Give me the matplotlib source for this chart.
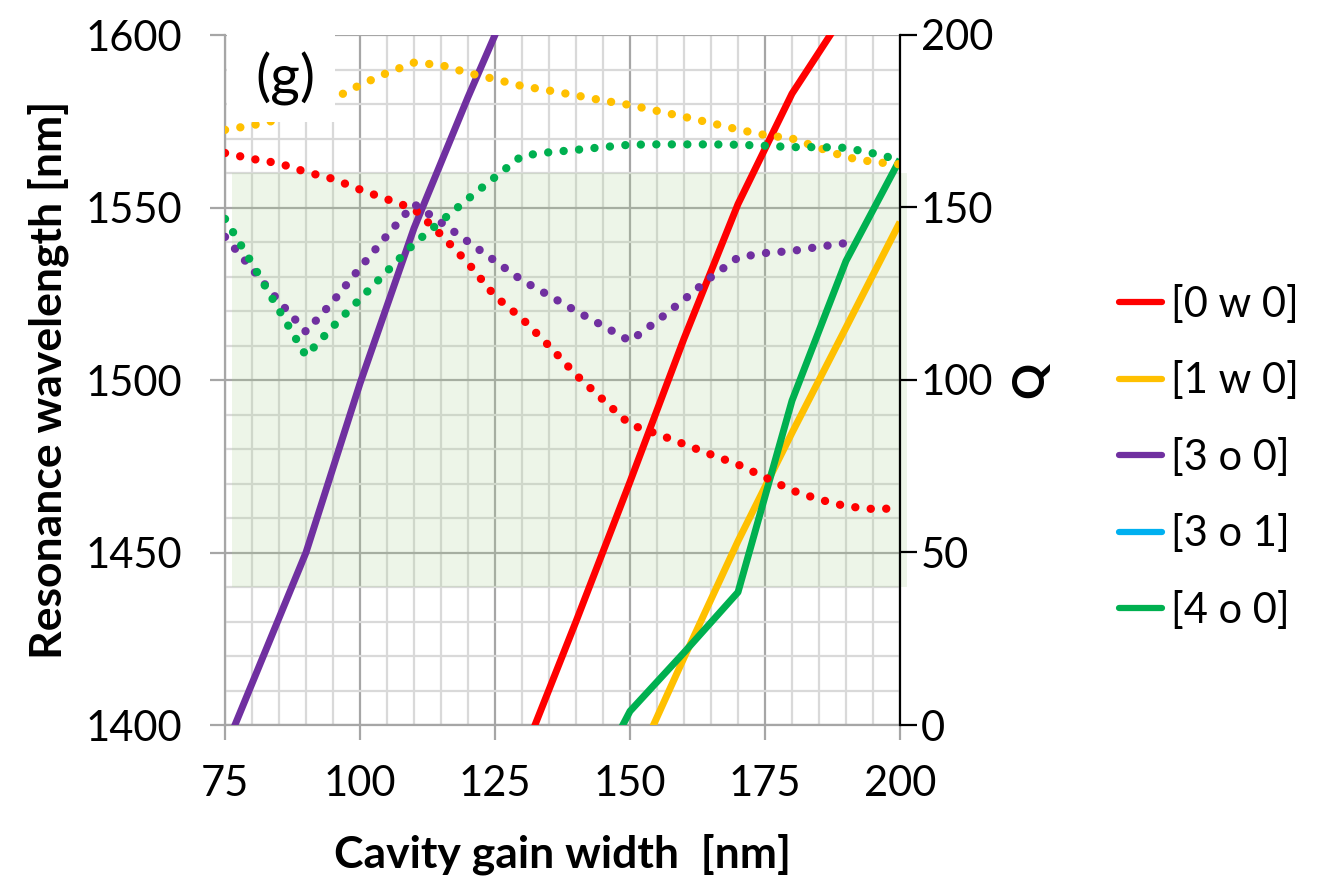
import matplotlib.pyplot as plt
from matplotlib.patches import Rectangle
from matplotlib.lines import Line2D

plt.rcParams['font.family'] = ['Lato', 'DejaVu Sans']

# solid lines: resonance wavelength (nm) vs cavity gain width (nm)
w0_x = [130, 140, 150, 160, 170, 180, 190]
w0_wl = [1390.5, 1430, 1470.5, 1512, 1551, 1583, 1607]
w1_x = [150, 160, 170, 180, 190, 200]
w1_wl = [1385, 1419.5, 1453.3, 1484.7, 1515.2, 1545.8]
o30_x = [75, 90, 100, 110, 120, 130]
o30_wl = [1393, 1450, 1499, 1544, 1582, 1618]
o40_x = [140, 150, 160, 170, 180, 190, 200]
o40_wl = [1374, 1404, 1421, 1438.5, 1494, 1534.5, 1564]

# dotted lines: Q vs cavity gain width
q_x = [75, 80, 85, 90, 95, 100, 105, 110, 115, 120, 125, 130, 135, 140,
       145, 150, 155, 160, 165, 170, 175, 180, 185, 190, 195, 200]
w0_q = [165.8, 164.1, 162.8, 160.3, 158.3, 155.2, 152.4, 149.6, 142.1, 133.9,
        124.3, 117.8, 109.9, 101.5, 94.3, 87.1, 84.4, 81.4, 78.4, 75.5,
        71.8, 68.0, 65.4, 63.4, 62.6, 62.8]
w1_q = [172.5, 173.8, 175.5, 178.0, 181.5, 185.5, 189.0, 192.0, 191.3, 189.0,
        187.2, 185.2, 183.9, 182.5, 181.0, 179.7, 178.0, 176.3, 174.5, 172.6,
        171.0, 170.0, 167.3, 164.6, 163.2, 162.5]
o30_q = [141.5, 132.2, 122.8, 114.0, 122.8, 132.5, 141.9, 151.0, 145.7, 140.1,
         134.5, 128.9, 124.5, 120.0, 115.7, 111.3, 117.1, 123.3, 129.8, 135.5,
         136.8, 137.4, 138.6, 139.7]
o40_q = [146.7, 133.8, 120.3, 107.0, 115.5, 123.5, 131.5, 139.5, 146.0, 152.5,
         158.8, 165.0, 166.0, 166.7, 167.5, 168.2, 168.3, 168.3, 168.3, 168.2,
         167.9, 167.5, 167.5, 167.3, 165.7, 163.8]

labels = ['[0 w 0]', '[1 w 0]', '[3 o 0]', '[3 o 1]', '[4 o 0]']
colors = ['#FF0000', '#FFC000', '#7030A0', '#00B0F0', '#00B050']

fig = plt.figure(figsize=(13.28, 8.8), dpi=100)
ax = fig.add_axes([225/1328, 1-725/880, 675/1328, 690/880])
ax2 = ax.twinx()

ax.set_xlim(75, 200)
ax.set_ylim(1400, 1600)
ax2.set_ylim(0, 200)
ax.set_xticks(range(75, 201, 25))
ax.set_xticks(range(75, 201, 5), minor=True)
ax.set_yticks(range(1400, 1601, 50))
ax.set_yticks(range(1400, 1601, 10), minor=True)
ax2.set_yticks(range(0, 201, 50))

ax.set_axisbelow(True)
ax.grid(which='minor', color='#D9D9D9', lw=1.6)
ax.grid(which='major', color='#A6A6A6', lw=1.6)

# shaded wavelength window
ax.add_patch(Rectangle((76.3, 1440), 125, 120, facecolor='#A9D18E',
                       alpha=0.2, lw=0, zorder=1, clip_on=False))

solid = dict(lw=5, solid_capstyle='butt', zorder=3)
ax.plot(w0_x, w0_wl, color=colors[0], **solid)
ax.plot(w1_x, w1_wl, color=colors[1], **solid)
ax.plot(o30_x, o30_wl, color=colors[2], **solid)
ax.plot(o40_x, o40_wl, color=colors[4], **solid)

dots = dict(lw=6.0, ls=(0, (0.01, 1.85)), dash_capstyle='round')
ax2.plot(q_x, w1_q, color=colors[1], **dots)
ax2.plot(q_x, w0_q, color=colors[0], **dots)
ax2.plot(q_x[:len(o30_q)], o30_q, color=colors[2], **dots)
ax2.plot(q_x, o40_q, color=colors[4], **dots)

for s in ['top', 'right']:
    ax.spines[s].set_visible(False)
for s in ['left', 'bottom']:
    ax.spines[s].set_color('#A6A6A6')
    ax.spines[s].set_linewidth(1.6)
for s in ['top', 'left', 'bottom']:
    ax2.spines[s].set_visible(False)
ax2.spines['right'].set_color('black')
ax2.spines['right'].set_linewidth(1.6)

ax.tick_params(which='major', length=11, width=1.6, color='#A6A6A6',
               labelsize=30)
ax.tick_params(axis='y', pad=20)
ax.tick_params(axis='x', pad=18)
ax.tick_params(which='minor', length=0)
ax2.tick_params(length=12, width=1.6, color='black', labelsize=30, pad=3)

ax.set_xlabel('Cavity gain width  [nm]', fontsize=32, fontweight='bold',
              labelpad=22)
ax.set_ylabel('Resonance wavelength [nm]', fontsize=32, fontweight='bold',
              labelpad=12)
ax2.set_ylabel('Q', fontsize=32, fontweight='bold', labelpad=12)

# panel tag
ax2.add_patch(Rectangle((0.003, 0.874), 0.16, 0.126, transform=ax2.transAxes,
                        facecolor='white', lw=0, zorder=5))
ax2.text(0.09, 0.937, '(g)', transform=ax2.transAxes, fontsize=41,
         ha='center', va='center', zorder=6)

handles = [Line2D([], [], color=c, lw=4.5, solid_capstyle='round') for c in colors]
fig.legend(handles, labels, loc='upper left', bbox_to_anchor=(1102/1328, 1-268/880),
           frameon=False, fontsize=30, handlelength=1.05, handletextpad=0.2,
           labelspacing=0.9, borderaxespad=0)

fig.savefig('out.png', dpi=100)
